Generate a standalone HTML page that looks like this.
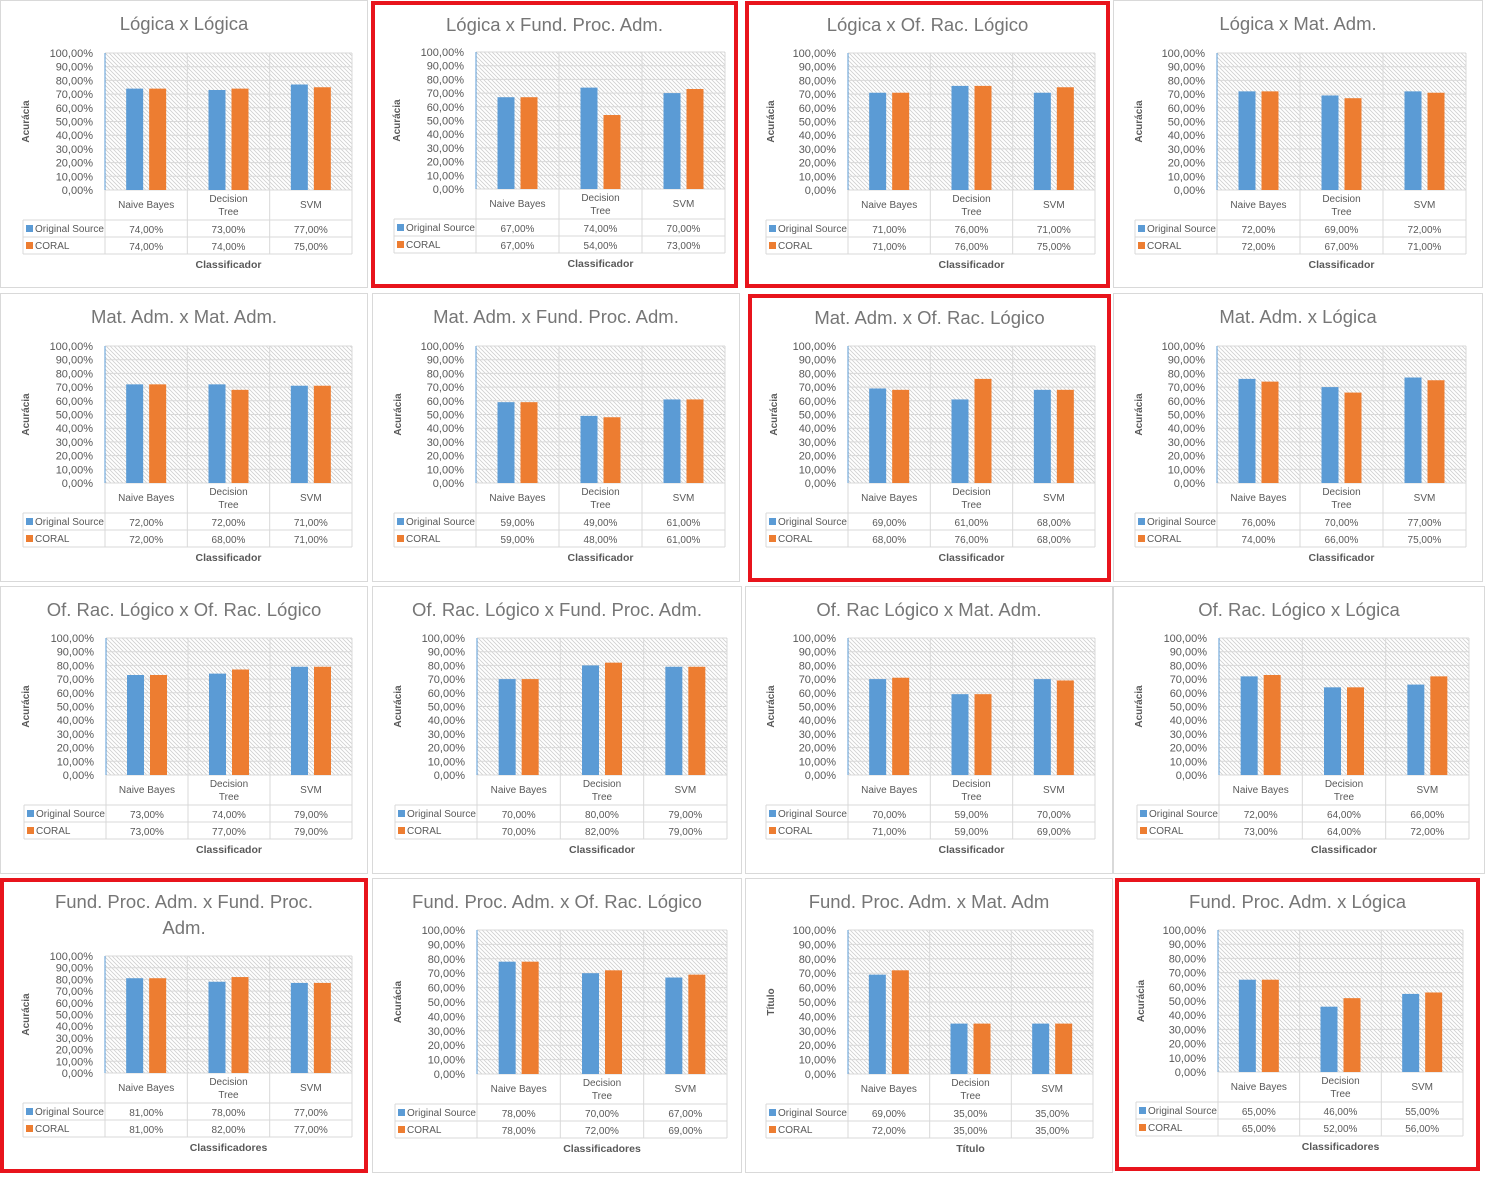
<!DOCTYPE html>
<html><head><meta charset="utf-8">
<style>
html,body{margin:0;padding:0;background:#fff;}
svg{display:block;font-family:"Liberation Sans",sans-serif;}
</style></head>
<body>
<svg id="chart" width="1512" height="1192" viewBox="0 0 1512 1192" xmlns="http://www.w3.org/2000/svg">
<defs>
<pattern id="hatch" width="4" height="4" patternUnits="userSpaceOnUse">
<path d="M0,0 L4,4 M-1,3 L1,5 M3,-1 L5,1" stroke="#cfcfcf" stroke-width="0.8"/>
</pattern>
</defs>
</svg>
<script>
const titles = ["Lógica x Lógica","Lógica x Fund. Proc. Adm.","Lógica x Of. Rac. Lógico","Lógica x Mat. Adm.",
"Mat. Adm. x Mat. Adm.","Mat. Adm. x Fund. Proc. Adm.","Mat. Adm. x Of. Rac. Lógico","Mat. Adm. x Lógica",
"Of. Rac. Lógico x Of. Rac. Lógico","Of. Rac. Lógico x Fund. Proc. Adm.","Of. Rac Lógico x Mat. Adm.","Of. Rac. Lógico x Lógica",
"Fund. Proc. Adm. x Fund. Proc.|Adm.","Fund. Proc. Adm. x Of. Rac. Lógico","Fund. Proc. Adm. x Mat. Adm","Fund. Proc. Adm. x Lógica"];
const categories = ["Naive Bayes","Decision|Tree","SVM"];
const seriesNames = ["Original Source","CORAL"];
const originalSource = [[74,73,77],[67,74,70],[71,76,71],[72,69,72],
[72,72,71],[59,49,61],[69,61,68],[76,70,77],
[73,74,79],[70,80,79],[70,59,70],[72,64,66],
[81,78,77],[78,70,67],[69,35,35],[65,46,55]];
const coral = [[74,74,75],[67,54,73],[71,76,75],[72,67,71],
[72,68,71],[59,48,61],[68,76,68],[74,66,75],
[73,77,79],[70,82,79],[71,59,69],[73,64,72],
[81,82,77],[78,72,69],[72,35,35],[65,52,56]];
const yTickValues = [0,10,20,30,40,50,60,70,80,90,100];
const yTitles = ["Acurácia","Acurácia","Acurácia","Acurácia","Acurácia","Acurácia","Acurácia","Acurácia","Acurácia","Acurácia","Acurácia","Acurácia","Acurácia","Acurácia","Título","Acurácia"];
const xTitles = ["Classificador","Classificador","Classificador","Classificador","Classificador","Classificador","Classificador","Classificador","Classificador","Classificador","Classificador","Classificador","Classificadores","Classificadores","Título","Classificadores"];

// layout (frame x, y, w, h, red, plot left, right, top, bottom)
const layout = [
[0,0,368,288,0,105,352,53,190],[371,1,367,287,1,476,725,52,189],[745,1,365,287,1,848,1095,53,190],[1113,0,370,288,0,1217,1466,53,190],
[0,293,368,289,0,105,352,346,483],[372,293,368,289,0,476,725,346,483],[748,294,363,288,1,848,1095,346,483],[1113,293,370,289,0,1217,1466,346,483],
[0,586,368,288,0,106,352,638,775],[372,586,370,288,0,477,727,638,775],[745,586,368,288,0,848,1095,638,775],[1113,586,372,288,0,1219,1469,638,775],
[0,878,368,295,1,105,352,956,1073],[372,878,370,295,0,477,727,930,1074],[745,878,368,295,0,848,1093,930,1074],[1115,878,365,293,1,1218,1463,930,1072]];

const svg = document.getElementById('chart');
const NS = 'http://www.w3.org/2000/svg';
function mk(tag, attrs, parent, text){
  const e = document.createElementNS(NS, tag);
  for (const k in attrs) e.setAttribute(k, attrs[k]);
  if (text !== undefined) e.textContent = text;
  parent.appendChild(e);
  return e;
}
const fmt = v => v.toFixed(2).replace('.', ',') + '%';
const colors = ['#5b9bd5','#ed7d31'];

layout.forEach((L, i) => {
  const [fx, fy, fw, fh, red, pl, pr, pt, pb] = L;
  const g = mk('g', {}, svg);
  
  
  const frame = mk('rect', {x: fx+(red?2:0.5), y: fy+(red?2:0.5), width: fw-(red?4:1), height: fh-(red?4:1), fill:'#fff', stroke: red?'#e8141c':'#d9d9d9', 'stroke-width': red?4:1}, g);
  
  
  // title
  const lines = titles[i].split('|');
  const tcx = fx + fw/2;
  lines.forEach((ln, k) => {
    const t = mk('text', {x: tcx, y: fy + 30 + k*26, 'text-anchor':'middle', 'font-size': 18.5, fill:'#767676'}, g, ln);
    
    
  });
  const yScale = v => pb - v/100*(pb-pt);
  // plot area hatch
  const pa = mk('rect', {x: pl, y: pt, width: pr-pl, height: pb-pt, fill:'url(#hatch)'}, g);
  
  
  // gridlines and ticks
  yTickValues.forEach(v => {
    const y = yScale(v);
    const gl = mk('line', {x1: pl, x2: pr, y1: y, y2: y, stroke:'#d9d9d9', 'stroke-width':1}, g);
    
    
    const tl = mk('text', {x: pl-12, y: y+4, 'text-anchor':'end', 'font-size': 11, fill:'#595959'}, g, fmt(v));
    
    
  });
  const cw = (pr-pl)/categories.length;
  const tl0 = pl - 82;
  const catB = pb + 30, r1 = catB + 17, r2 = r1 + 17;
  // table grid
  for (let c = 0; c <= categories.length; c++){
    const x = pl + c*cw;
    const vl = mk('line', {x1:x, x2:x, y1:pt, y2:r2, stroke:'#d9d9d9', 'stroke-width':1}, g);
    
    
  }
  const vl0 = mk('line', {x1:tl0, x2:tl0, y1:catB, y2:r2, stroke:'#d9d9d9'}, g);
  
  
  [catB, r1, r2].forEach(y => {
    const hl = mk('line', {x1:tl0, x2:pr, y1:y, y2:y, stroke:'#d9d9d9'}, g);
    
    
  });
  // axis line
  const ax = mk('line', {x1:pl, x2:pl, y1:pt, y2:pb, stroke:'#5b9bd5', 'stroke-width':1}, g);
  
  
  // bars
  const series = [originalSource[i], coral[i]];
  categories.forEach((cat, c) => {
    const cx = pl + (c+0.5)*cw;
    series.forEach((s, k) => {
      const x = cx - 20 + k*23;
      const b = mk('rect', {x: x, y: yScale(s[c]), width: 17, height: pb - yScale(s[c]), fill: colors[k]}, g);
      
      
      const vt = mk('text', {x: cx, y: (k===0?r1:r2) - 4, 'text-anchor':'middle', 'font-size': 10, fill:'#595959'}, g, fmt(s[c]));
      
      
    });
    const cl = cat.split('|');
    cl.forEach((ln, k) => {
      const y = cl.length === 1 ? pb + 18 : pb + 12 + k*13;
      const ct = mk('text', {x: cx, y: y, 'text-anchor':'middle', 'font-size': 10, fill:'#595959'}, g, ln);
      
      
    });
  });
  // legend cells
  seriesNames.forEach((n, k) => {
    const y = (k===0?r1:r2) - 17;
    const sw = mk('rect', {x: tl0+3, y: y+5, width: 7, height: 7, fill: colors[k]}, g);
    
    
    const lt = mk('text', {x: tl0+12, y: y+12, 'font-size': 10, fill:'#595959'}, g, n);
    
    
  });
  // axis titles
  const xt = mk('text', {x: (pl+pr)/2, y: r2+14, 'text-anchor':'middle', 'font-size': 10.5, 'font-weight':'bold', fill:'#595959'}, g, xTitles[i]);
  
  
  const yc = (pt+pb)/2, yx = fx + 29;
  const yt = mk('text', {x: yx, y: yc, 'text-anchor':'middle', 'font-size': 10, 'font-weight':'bold', fill:'#595959', transform:'rotate(-90 '+yx+' '+yc+')'}, g, yTitles[i]);
  
  
});
</script>
</body></html>
